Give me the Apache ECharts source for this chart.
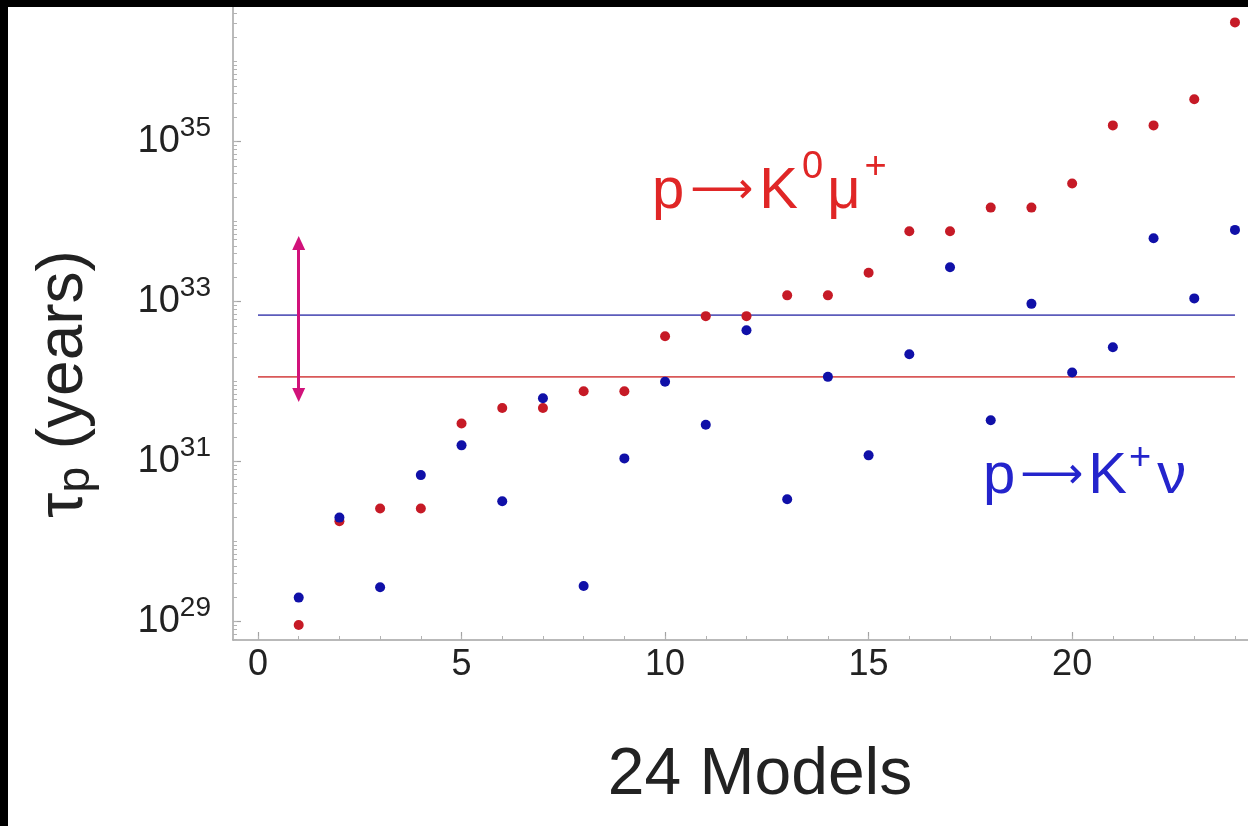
<!DOCTYPE html>
<html lang="en">
<head>
<meta charset="utf-8">
<title>Proton lifetime - 24 Models</title>
<style>
  html, body { margin: 0; padding: 0; background: #fff; }
  #chart { width: 1248px; height: 826px; }
</style>
</head>
<body>
<div id="chart"></div>
<script src="https://cdn.jsdelivr.net/npm/echarts@6/dist/echarts.min.js"></script>
<script>
// models on the x axis
var models = [1, 2, 3, 4, 5, 6, 7, 8, 9, 10, 11, 12, 13, 14, 15, 16, 17, 18, 19, 20, 21, 22, 23, 24];
// p -> K0 mu+ lifetime (years), red dots
var k0muLife = [9.1e28, 1.8e30, 2.6e30, 2.6e30, 3.0e31, 4.7e31, 4.7e31, 7.6e31, 7.6e31, 3.7e32, 6.6e32, 6.6e32,
                1.2e33, 1.2e33, 2.3e33, 7.6e33, 7.6e33, 1.5e34, 1.5e34, 3.0e34, 1.6e35, 1.6e35, 3.4e35, 3.1e36];
// p -> K+ nu lifetime (years), blue dots
var kNuLife = [2.0e29, 2.0e30, 2.7e29, 6.8e30, 1.6e31, 3.2e30, 6.2e31, 2.8e29, 1.1e31, 1.0e32, 2.9e31, 4.4e32,
               3.4e30, 1.15e32, 1.2e31, 2.2e32, 2.7e33, 3.3e31, 9.4e32, 1.3e32, 2.7e32, 6.2e33, 1.1e33, 7.9e33];
// horizontal bound lines
var kNuBound = 6.8e32;
var k0muBound = 1.15e32;
var boundFrom = 0, boundTo = 24;
// double arrow at model 1
var arrowModel = 1;
var arrowTop = 5.4e33, arrowBottom = 6.8e31;
// ticks
var xMajorTicks = [0, 5, 10, 15, 20];
var xMinorTicks = [0, 1, 2, 3, 4, 5, 6, 7, 8, 9, 10, 11, 12, 13, 14, 15, 16, 17, 18, 19, 20, 21, 22, 23, 24];
var yLabelTicks = [1e29, 1e31, 1e33, 1e35];
var yMinorTicks = [];
for (var n = 28; n <= 36; n++) {
  for (var k = 1; k <= 9; k++) yMinorTicks.push(k * Math.pow(10, n));
}

var FONT = '"Liberation Sans", Arial, Helvetica, sans-serif';
var ARROWFONT = '"DejaVu Sans", "Liberation Sans", sans-serif';
var xMin = -0.614, xMax = 24.32;
var yMin = Math.pow(10, 28.771), yMax = Math.pow(10, 36.684);

var myChart = echarts.init(document.getElementById('chart'));
var option = {
  animation: false,
  backgroundColor: '#fff',
  grid: { left: 233, top: 7, right: 0, bottom: 186 },
  xAxis: [
    {
      type: 'value', min: xMin, max: xMax, position: 'bottom',
      axisLine: { show: true, onZero: false, lineStyle: { color: '#a3a3a3', width: 1.5 } },
      axisTick: { show: true, inside: true, length: 8, customValues: xMajorTicks, lineStyle: { color: '#a3a3a3', width: 1.2 } },
      axisLabel: { customValues: xMajorTicks, margin: 7, color: '#222', fontSize: 36, fontFamily: FONT },
      splitLine: { show: false }
    },
    {
      type: 'value', min: xMin, max: xMax, position: 'bottom',
      axisLine: { show: false, onZero: false },
      axisTick: { show: true, inside: true, length: 4, customValues: xMinorTicks, lineStyle: { color: '#b3b3b3', width: 1 } },
      axisLabel: { show: false },
      splitLine: { show: false }
    }
  ],
  yAxis: [
    {
      type: 'log', logBase: 10, min: yMin, max: yMax, position: 'left',
      axisLine: { show: true, onZero: false, lineStyle: { color: '#a3a3a3', width: 1.5 } },
      axisTick: { show: true, inside: true, length: 8, customValues: yLabelTicks, lineStyle: { color: '#a3a3a3', width: 1.2 } },
      axisLabel: {
        customValues: yLabelTicks, margin: 22,
        formatter: function (v) { return '{b|10}{s|' + Math.round(Math.log10(v)) + '}'; },
        rich: {
          b: { fontSize: 38, lineHeight: 36, color: '#222', fontFamily: FONT },
          s: { fontSize: 28, lineHeight: 10, height: 10, verticalAlign: 'top', color: '#222', fontFamily: FONT }
        }
      },
      splitLine: { show: false }
    },
    {
      type: 'log', logBase: 10, min: yMin, max: yMax, position: 'left',
      axisLine: { show: false, onZero: false },
      axisTick: { show: true, inside: true, length: 4, customValues: yMinorTicks, lineStyle: { color: '#b3b3b3', width: 1 } },
      axisLabel: { show: false },
      splitLine: { show: false }
    }
  ],
  series: [
    {
      name: 'K+nu bound', type: 'line', showSymbol: false, silent: true, z: 1,
      data: [[boundFrom, kNuBound], [boundTo, kNuBound]],
      lineStyle: { color: '#5c5cbb', width: 1.6 }
    },
    {
      name: 'K0mu bound', type: 'line', showSymbol: false, silent: true, z: 1,
      data: [[boundFrom, k0muBound], [boundTo, k0muBound]],
      lineStyle: { color: '#d95858', width: 1.6 },
      markLine: {
        silent: true, symbol: ['triangle', 'triangle'], symbolSize: [13, 14],
        label: { show: false },
        lineStyle: { color: '#d1127a', width: 3, type: 'solid' },
        data: [[{ coord: [arrowModel, arrowTop] }, { coord: [arrowModel, arrowBottom] }]]
      }
    },
    {
      name: 'p->K0mu+', type: 'scatter', symbolSize: 10, z: 3,
      data: models.map(function (m, i) { return [m, k0muLife[i]]; }),
      itemStyle: { color: '#c61a26', opacity: 1 }
    },
    {
      name: 'p->K+nu', type: 'scatter', symbolSize: 10, z: 4,
      data: models.map(function (m, i) { return [m, kNuLife[i]]; }),
      itemStyle: { color: '#1010a8', opacity: 1 }
    }
  ],
  graphic: [
    {
      type: 'text', x: 64, y: 384, rotation: Math.PI / 2, z: 10,
      style: {
        text: '{t|τ}{p|p}{t| (years)}', textAlign: 'center', textVerticalAlign: 'middle',
        rich: {
          t: { fontSize: 64, lineHeight: 70, fill: '#222', fontFamily: FONT },
          p: { fontSize: 46, lineHeight: 20, verticalAlign: 'bottom', fill: '#222', fontFamily: FONT }
        }
      }
    },
    {
      type: 'text', x: 760, y: 776, z: 10,
      style: { text: '24 Models', fill: '#222', font: '66px ' + FONT, textAlign: 'center', textVerticalAlign: 'middle' }
    },
    {
      type: 'text', x: 652, y: 162, z: 10,
      style: {
        text: '{m|p}{a|⟶}{m|K}{s|0}{m|μ}{s|+}', textAlign: 'left', textVerticalAlign: 'top',
        rich: {
          m: { fontSize: 58, lineHeight: 60, fill: '#e02626', fontFamily: FONT },
          a: { fontSize: 44, lineHeight: 60, padding: [0, 6, 0, 6], fill: '#e02626', fontFamily: ARROWFONT },
          s: { fontSize: 38, lineHeight: 10, height: 11, padding: [0, 4, 0, 4], verticalAlign: 'top', fill: '#e02626', fontFamily: FONT }
        }
      }
    },
    {
      type: 'text', x: 983, y: 447, z: 10,
      style: {
        text: '{m|p}{a|⟶}{m|K}{s|+}{m|ν}', textAlign: 'left', textVerticalAlign: 'top',
        rich: {
          m: { fontSize: 58, lineHeight: 60, fill: '#2424cc', fontFamily: FONT },
          a: { fontSize: 44, lineHeight: 60, padding: [0, 5, 0, 5], fill: '#2424cc', fontFamily: ARROWFONT },
          s: { fontSize: 38, lineHeight: 10, height: 24, padding: [0, 6, 0, 2], verticalAlign: 'top', fill: '#2424cc', fontFamily: FONT }
        }
      }
    },
    { type: 'rect', z: 20, shape: { x: 0, y: 0, width: 1248, height: 7 }, style: { fill: '#000' } },
    { type: 'rect', z: 20, shape: { x: 0, y: 0, width: 8, height: 826 }, style: { fill: '#000' } }
  ]
};
myChart.setOption(option);
</script>
</body>
</html>
